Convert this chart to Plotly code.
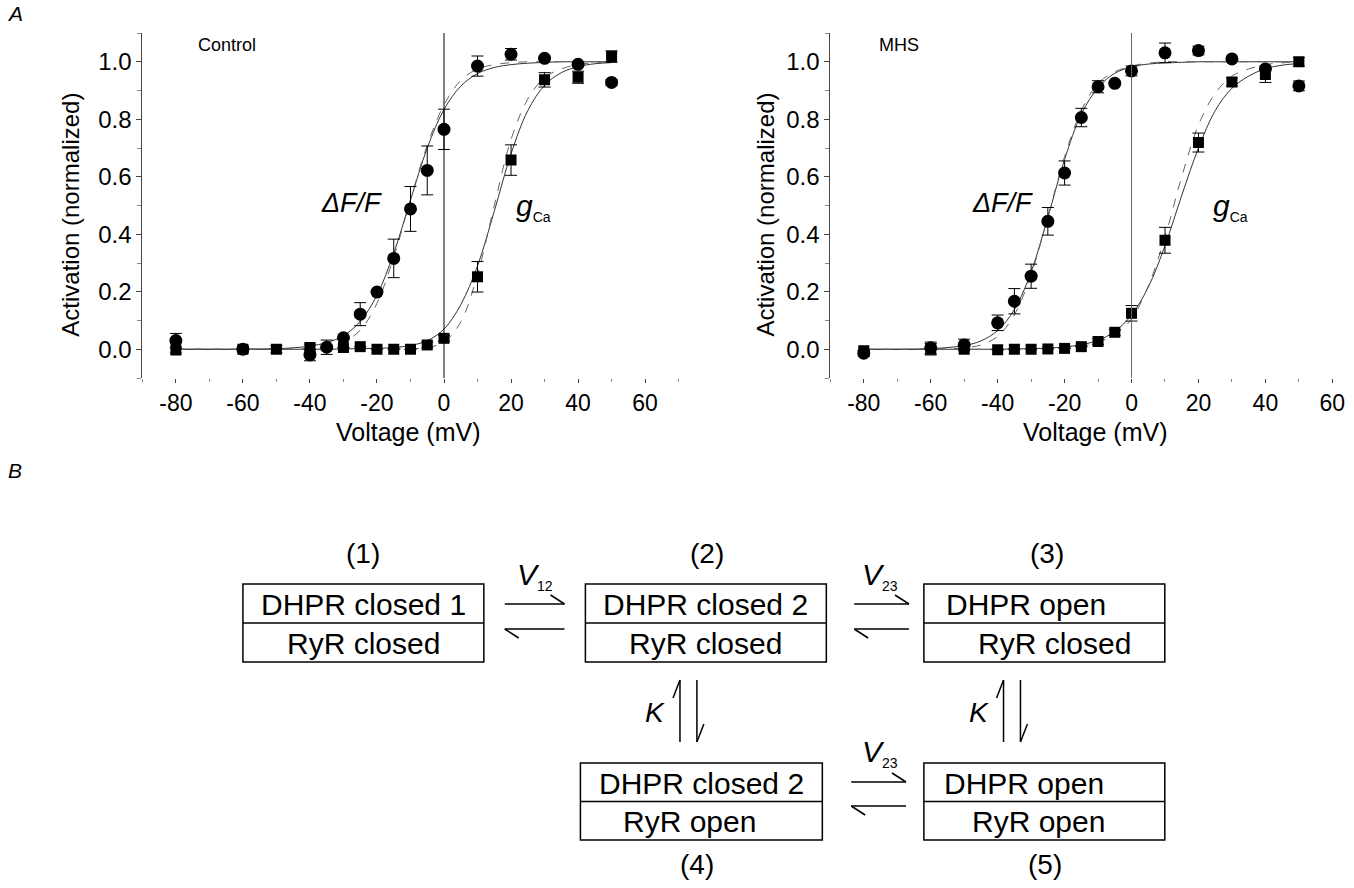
import plotly.graph_objects as go

W, H = 1354, 888
FONT = "Liberation Sans, Arial, sans-serif"

# ---------------- data ----------------
volts_pts = [-80, -60, -50, -40, -35, -30, -25, -20, -15, -10, -5, 0, 10, 20, 30, 40, 50]

# Control
ctrl_df = [0.03, 0.0, None, -0.02, 0.007, 0.04, 0.122, 0.199, 0.316, 0.488, 0.622, 0.765, 0.985, 1.026, 1.012, 0.991, 0.928]
ctrl_df_err = [0.025, 0.01, None, 0.02, 0.025, 0.0, 0.04, 0.0, 0.067, 0.078, 0.085, 0.07, 0.035, 0.02, 0.0, 0.0, 0.01]
ctrl_g = [-0.003, 0.0, 0.0, 0.006, None, 0.006, 0.009, 0.0, 0.0, 0.0, 0.015, 0.038, 0.252, 0.658, 0.937, 0.946, 1.018]
ctrl_g_err = [0.01, 0.01, 0.012, 0.012, None, 0.0, 0.0, 0.0, 0.0, 0.0, 0.01, 0.01, 0.053, 0.053, 0.025, 0.021, 0.02]

# MHS
mhs_df = [-0.014, 0.005, 0.015, 0.092, 0.167, 0.254, 0.445, 0.613, 0.806, 0.913, 0.925, 0.968, 1.031, 1.039, 1.01, 0.975, 0.916]
mhs_df_err = [0.01, 0.02, 0.02, 0.027, 0.044, 0.042, 0.048, 0.042, 0.032, 0.021, 0.0, 0.017, 0.034, 0.015, 0.0, 0.0, 0.017]
mhs_g = [-0.005, 0.0, 0.0, -0.002, 0.0, 0.0, 0.001, 0.003, 0.009, 0.027, 0.059, 0.125, 0.379, 0.719, 0.93, 0.956, 1.0]
mhs_g_err = [0.0, 0.02, 0.0, 0.0, 0.0, 0.0, 0.0, 0.0, 0.0, 0.01, 0.01, 0.027, 0.045, 0.033, 0.014, 0.028, 0.015]

# fitted curves, values
volts_fit = [-80, -60, -50, -45, -40, -35, -30, -25, -20, -15, -10, -5, 0, 5, 10, 15, 20, 25, 30, 35, 40, 45, 50]
ctrl_df_fit = [0.0, 0.0, 0.002, 0.005, 0.011, 0.023, 0.047, 0.097, 0.188, 0.334, 0.519, 0.70, 0.834, 0.915, 0.959, 0.98, 0.99, 0.995, 0.998, 1.0, 1.0, 1.0, 1.0]
ctrl_df_model = [0.0, 0.0, 0.0, 0.001, 0.003, 0.009, 0.025, 0.066, 0.16, 0.32, 0.52, 0.71, 0.85, 0.935, 0.975, 0.99, 0.997, 1.0, 1.0, 1.0, 1.0, 1.0, 1.0]
ctrl_g_fit = [0.0, 0.0, 0.0, 0.0, 0.0, 0.0, 0.001, 0.002, 0.003, 0.006, 0.013, 0.03, 0.07, 0.155, 0.29, 0.48, 0.68, 0.83, 0.918, 0.962, 0.983, 0.993, 0.997]
ctrl_g_model = [0.0, 0.0, 0.0, 0.0, 0.0, 0.0, 0.0, 0.0, 0.0, 0.001, 0.002, 0.006, 0.025, 0.095, 0.26, 0.5, 0.73, 0.87, 0.945, 0.975, 0.99, 0.996, 1.0]
mhs_df_fit = [0.0, 0.002, 0.013, 0.029, 0.065, 0.138, 0.269, 0.459, 0.66, 0.818, 0.91, 0.96, 0.982, 0.992, 0.996, 0.998, 1.0, 1.0, 1.0, 1.0, 1.0, 1.0, 1.0]
mhs_df_model = [0.0, 0.0, 0.005, 0.015, 0.045, 0.12, 0.26, 0.46, 0.67, 0.83, 0.925, 0.965, 0.985, 0.995, 1.0, 1.0, 1.0, 1.0, 1.0, 1.0, 1.0, 1.0, 1.0]
mhs_g_fit = [0.0, 0.0, 0.0, 0.0, 0.0, 0.001, 0.002, 0.004, 0.008, 0.016, 0.031, 0.062, 0.119, 0.216, 0.36, 0.535, 0.70, 0.83, 0.908, 0.95, 0.976, 0.988, 0.994]
mhs_g_model = [0.0, 0.0, 0.0, 0.0, 0.0, 0.0, 0.001, 0.002, 0.005, 0.01, 0.025, 0.05, 0.105, 0.22, 0.39, 0.6, 0.78, 0.89, 0.95, 0.975, 0.99, 0.996, 1.0]

x_ticks = [-80, -60, -40, -20, 0, 20, 40, 60]
y_ticks = [0.0, 0.2, 0.4, 0.6, 0.8, 1.0]

# scheme (panel B)
state_numbers = ["(1)", "(2)", "(3)", "(4)", "(5)"]
dhpr_labels = ["DHPR closed 1", "DHPR closed 2", "DHPR open", "DHPR closed 2", "DHPR open"]
ryr_labels = ["RyR closed", "RyR closed", "RyR closed", "RyR open", "RyR open"]

# ---------------- figure ----------------
fig = go.Figure()


def px(x):
    return x / W


def py(y):
    return 1 - y / H


def add_panel(xa, ya, df, dfe, g, ge, dff, dfm, gf, gm):
    for ys, dash, col in [(dff, "solid", "#333"), (dfm, "dash", "#666"), (gf, "solid", "#333"), (gm, "dash", "#666")]:
        fig.add_trace(go.Scatter(x=volts_fit, y=ys, mode="lines", line=dict(color=col, width=1, dash=dash, shape="spline"),
                                 xaxis=xa, yaxis=ya, showlegend=False, hoverinfo="skip"))
    fig.add_trace(go.Scatter(x=volts_pts, y=g, mode="markers", marker=dict(symbol="square", size=11, color="black"),
                             error_y=dict(type="data", array=ge, color="black", thickness=1, width=6),
                             xaxis=xa, yaxis=ya, showlegend=False))
    fig.add_trace(go.Scatter(x=volts_pts, y=df, mode="markers", marker=dict(symbol="circle", size=13, color="black"),
                             error_y=dict(type="data", array=dfe, color="black", thickness=1, width=6),
                             xaxis=xa, yaxis=ya, showlegend=False))


add_panel("x", "y", ctrl_df, ctrl_df_err, ctrl_g, ctrl_g_err, ctrl_df_fit, ctrl_df_model, ctrl_g_fit, ctrl_g_model)
add_panel("x2", "y2", mhs_df, mhs_df_err, mhs_g, mhs_g_err, mhs_df_fit, mhs_df_model, mhs_g_fit, mhs_g_model)

ydom = [py(378), py(33)]
xcommon = dict(tickvals=x_ticks, ticktext=[str(v) for v in x_ticks], ticks="outside", ticklen=4, tickwidth=1,
               tickcolor="#444", showline=False, showgrid=False, zeroline=False,
               tickfont=dict(family=FONT, size=23, color="black"),
               minor=dict(dtick=10, ticks="outside", ticklen=3, tickcolor="#888", tick0=0))
ycommon = dict(range=[-0.1, 1.1], tickvals=y_ticks, ticktext=["%.1f" % v for v in y_ticks], ticks="outside",
               ticklen=5, tickwidth=1, tickcolor="#444", showline=True, linecolor="#444", linewidth=1,
               showgrid=False, zeroline=False, tickfont=dict(family=FONT, size=24, color="black"),
               minor=dict(dtick=0.1, ticks="outside", ticklen=4, tickcolor="#888", tick0=0))

fig.update_layout(
    width=W, height=H, margin=dict(l=0, r=0, t=0, b=0), plot_bgcolor="white", paper_bgcolor="white",
    font=dict(family=FONT, color="black"),
    xaxis=dict(domain=[px(143), px(685)], range=[-90, 71], anchor="y", **xcommon),
    yaxis=dict(domain=ydom, anchor="x", **ycommon),
    xaxis2=dict(domain=[px(834), px(1345)], range=[-90, 62], anchor="y2", **xcommon),
    yaxis2=dict(domain=ydom, anchor="x2", **ycommon),
)

shapes = []
annots = []

# zero voltage lines
shapes.append(dict(type="line", xref="x", yref="y", x0=0, x1=0, y0=-0.1, y1=1.1, line=dict(color="black", width=1)))
shapes.append(dict(type="line", xref="x2", yref="y2", x0=0, x1=0, y0=-0.1, y1=1.1, line=dict(color="#666", width=1)))


def text(x, y, t, size, italic=False, angle=0, color="black"):
    if italic:
        t = "<i>" + t + "</i>"
    annots.append(dict(x=px(x), y=py(y), xref="paper", yref="paper", text=t, showarrow=False,
                       font=dict(family=FONT, size=size, color=color), textangle=angle,
                       xanchor="center", yanchor="middle"))


SUB = "<sub><span style='font-size:14px'>%s</span></sub>"

# panel A texts
text(15, 13, "A", 21, italic=True)
text(228, 45, "Control", 18)
text(903, 45, "MHS", 18)
text(353, 203, "ΔF/F", 27, italic=True)
text(536, 207, "<i>g</i>" + SUB % "Ca", 30)
text(1007, 203, "ΔF/F", 27, italic=True)
text(1236, 207, "<i>g</i>" + SUB % "Ca", 30)
text(70, 215, "Activation (normalized)", 24, angle=-90)
text(768, 215, "Activation (normalized)", 24, angle=-90)
text(410, 432, "Voltage (mV)", 25)
text(1100, 432, "Voltage (mV)", 25)

# panel B
text(15, 470, "B", 21, italic=True)

boxes = [(244, 584, 486, 662), (588, 584, 830, 662), (928, 584, 1170, 662), (583, 763, 826, 840), (928, 763, 1170, 840)]
num_pos = [(365, 553), (710, 553), (1052, 553), (700, 864), (1050, 864)]
top_dx = [0, 0, -18, 0, -20]
bot_dx = [0, 0, 10, -12, -6]
for i, (x0, y0, x1, y1) in enumerate(boxes):
    ym = (y0 + y1) / 2
    shapes.append(dict(type="rect", xref="paper", yref="paper", x0=px(x0), x1=px(x1), y0=py(y1), y1=py(y0),
                       line=dict(color="black", width=1.5)))
    shapes.append(dict(type="line", xref="paper", yref="paper", x0=px(x0), x1=px(x1), y0=py(ym), y1=py(ym),
                       line=dict(color="black", width=1.5)))
    cx = (x0 + x1) / 2
    text(cx + top_dx[i], (y0 + ym) / 2 + 1, dhpr_labels[i], 30)
    text(cx + bot_dx[i], (ym + y1) / 2 + 1, ryr_labels[i], 30)
    text(num_pos[i][0], num_pos[i][1], state_numbers[i], 28)


def seg(x0, y0, x1, y1, w=1.5):
    shapes.append(dict(type="line", xref="paper", yref="paper", x0=px(x0), x1=px(x1), y0=py(y0), y1=py(y1),
                       line=dict(color="black", width=w)))


def hpair(xa, xb, yt, yb):
    seg(xa, yt, xb, yt)
    seg(xb, yt, xb - 14, yt - 9)
    seg(xa, yb, xb, yb)
    seg(xa, yb, xa + 14, yb + 9)


def vpair(xu, xd, ya, yb):
    seg(xu, ya, xu, yb)
    seg(xu, ya, xu - 7, ya + 18)
    seg(xd, ya, xd, yb)
    seg(xd, yb, xd + 7, yb - 18)


hpair(507, 567, 604, 629)
hpair(858, 913, 604, 629)
hpair(855, 910, 782, 806)
vpair(683, 700, 680, 742)
vpair(1008, 1025, 680, 742)

text(537, 576, "<i>V</i>" + SUB % "12", 30)
text(884, 576, "<i>V</i>" + SUB % "23", 30)
text(884, 753, "<i>V</i>" + SUB % "23", 30)
text(658, 712, "K", 28, italic=True)
text(983, 712, "K", 28, italic=True)

fig.update_layout(shapes=shapes, annotations=annots)
fig.write_html("out.html", config={"displayModeBar": False},
               post_script="document.body.style.margin='0px';")
